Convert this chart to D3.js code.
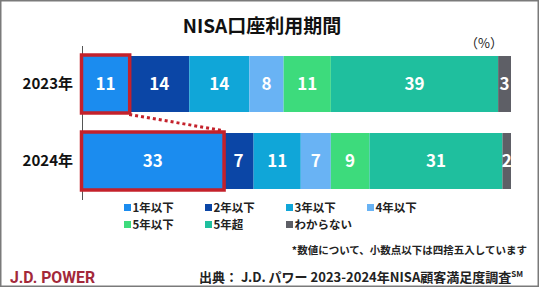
<!DOCTYPE html>
<html>
<head>
<meta charset="utf-8">
<script src="https://cdn.jsdelivr.net/npm/d3@7"></script>
<style>
html,body{margin:0;padding:0;background:#fff;}
svg{display:block;font-family:"Noto Sans CJK JP","Noto Sans",sans-serif;}
</style>
</head>
<body>
<svg id="chart" width="540" height="287"></svg>
<script>
const years = ["2023年", "2024年"];
const seriesNames = ["1年以下", "2年以下", "3年以下", "4年以下", "5年以下", "5年超", "わからない"];
const values2023 = [11, 14, 14, 8, 11, 39, 3];
const values2024 = [33, 7, 11, 7, 9, 31, 2];
const colors = ["#1b8cef", "#0b46a6", "#10a6d8", "#69b3f4", "#3ddb7c", "#1fbf9e", "#5e5f66"];
const title = "NISA口座利用期間";
const unitLabel = "（%）";
const footnote = "*数値について、小数点以下は四捨五入しています";
const source = "出典：  J.D. パワー 2023-2024年NISA顧客満足度調査";
const brand = "J.D. POWER";

const svg = d3.select("#chart");
const W = 540, H = 287;

// frame
svg.append("rect").attr("x", 0.75).attr("y", 0.75).attr("width", W - 2.5).attr("height", H - 1.5)
  .attr("fill", "#fff").attr("stroke", "#7a7a7a").attr("stroke-width", 1.5);

const valuesByYear = [values2023, values2024];
const rows = years.map((yr, i) => {
  let acc = 0;
  return {year: yr, segs: valuesByYear[i].map((v, j) => { const s = {name: seriesNames[j], v, x0: acc, x1: acc + v, j}; acc += v; return s; })};
});

const x = d3.scaleLinear().domain([0, 100]).range([82, 511]);
const y = d3.scaleBand().domain(years).range([45.5, 199.5]).paddingInner(0.273).paddingOuter(0.1365);
const color = d3.scaleOrdinal().domain(seriesNames).range(colors);

// title
svg.append("text").attr("x", 262).attr("y", 33).attr("text-anchor", "middle")
  .attr("font-size", 19).attr("font-weight", "bold").attr("fill", "#111").text(title);
svg.append("text").attr("x", 484).attr("y", 48).attr("text-anchor", "middle")
  .attr("font-size", 13).attr("fill", "#222").text(unitLabel);

// bars
const g = svg.append("g");
const rowG = g.selectAll("g.row").data(rows).join("g").attr("class", "row");
rowG.selectAll("rect").data(d => d.segs.map(s => ({...s, year: d.year}))).join("rect")
  .attr("x", d => x(d.x0)).attr("width", d => x(d.x1) - x(d.x0))
  .attr("y", d => y(d.year)).attr("height", y.bandwidth())
  .attr("fill", d => color(d.name));
rowG.selectAll("text").data(d => d.segs.map(s => ({...s, year: d.year}))).join("text")
  .attr("x", d => (x(d.x0) + x(d.x1)) / 2)
  .attr("y", d => y(d.year) + y.bandwidth() / 2)
  .attr("dy", "0.35em").attr("text-anchor", "middle")
  .attr("font-size", 17).attr("font-weight", "bold").attr("fill", "#fff")
  .text(d => d.v);

// axis
const yAxis = d3.axisLeft(y).tickSize(0).tickPadding(9);
const ax = svg.append("g").attr("transform", `translate(${x(0)},0)`).call(yAxis);
ax.select(".domain").attr("stroke", "#555").attr("stroke-width", 1);
ax.selectAll(".tick text").attr("font-size", 15).attr("font-weight", "bold").attr("fill", "#111")
  .attr("font-family", "'Noto Sans CJK JP', sans-serif");

// highlight boxes
const red = "#c4212b";
rows.forEach(r => {
  const s = r.segs[0];
  svg.append("rect").attr("x", x(s.x0) - 0.5).attr("y", y(r.year) - 1)
    .attr("width", x(s.x1) - x(s.x0) + 1).attr("height", y.bandwidth() + 2)
    .attr("fill", "none").attr("stroke", red).attr("stroke-width", 3.5);
});
svg.append("line")
  .attr("x1", x(rows[0].segs[0].x1)).attr("y1", y(years[0]) + y.bandwidth() + 2.5)
  .attr("x2", x(rows[1].segs[0].x1) - 1).attr("y2", y(years[1]) - 2.5)
  .attr("stroke", red).attr("stroke-width", 3).attr("stroke-dasharray", "3,3");

// legend
const legCols = [124, 205, 286, 367];
const legend = svg.append("g");
seriesNames.forEach((n, i) => {
  const cx = legCols[i % 4];
  const cy = i < 4 ? 207.5 : 224.5;
  legend.append("rect").attr("x", cx).attr("y", cy - 3.5).attr("width", 7).attr("height", 7).attr("fill", color(n));
  legend.append("text").attr("x", cx + 8.5).attr("y", cy).attr("dy", "0.35em")
    .attr("font-size", 11.5).attr("font-weight", "bold").attr("fill", "#222").text(n);
});

// footnote and source
svg.append("text").attr("x", 527).attr("y", 254).attr("text-anchor", "end")
  .attr("font-size", 10.5).attr("fill", "#222").attr("font-weight", "bold").text(footnote);
const src = svg.append("text").attr("x", 199).attr("y", 282)
  .attr("font-size", 13).attr("font-weight", "bold").attr("fill", "#222");
src.append("tspan").text(source);
src.append("tspan").attr("font-size", 8).attr("dy", -5).text("SM");

svg.append("text").attr("x", 10).attr("y", 283)
  .attr("font-family", "'Liberation Sans Narrow','Roboto',sans-serif")
  .attr("font-size", 16).attr("font-weight", "bold").attr("fill", "#a3283a")
  .attr("textLength", 85).attr("lengthAdjust", "spacingAndGlyphs").text(brand);
</script>
</body>
</html>
